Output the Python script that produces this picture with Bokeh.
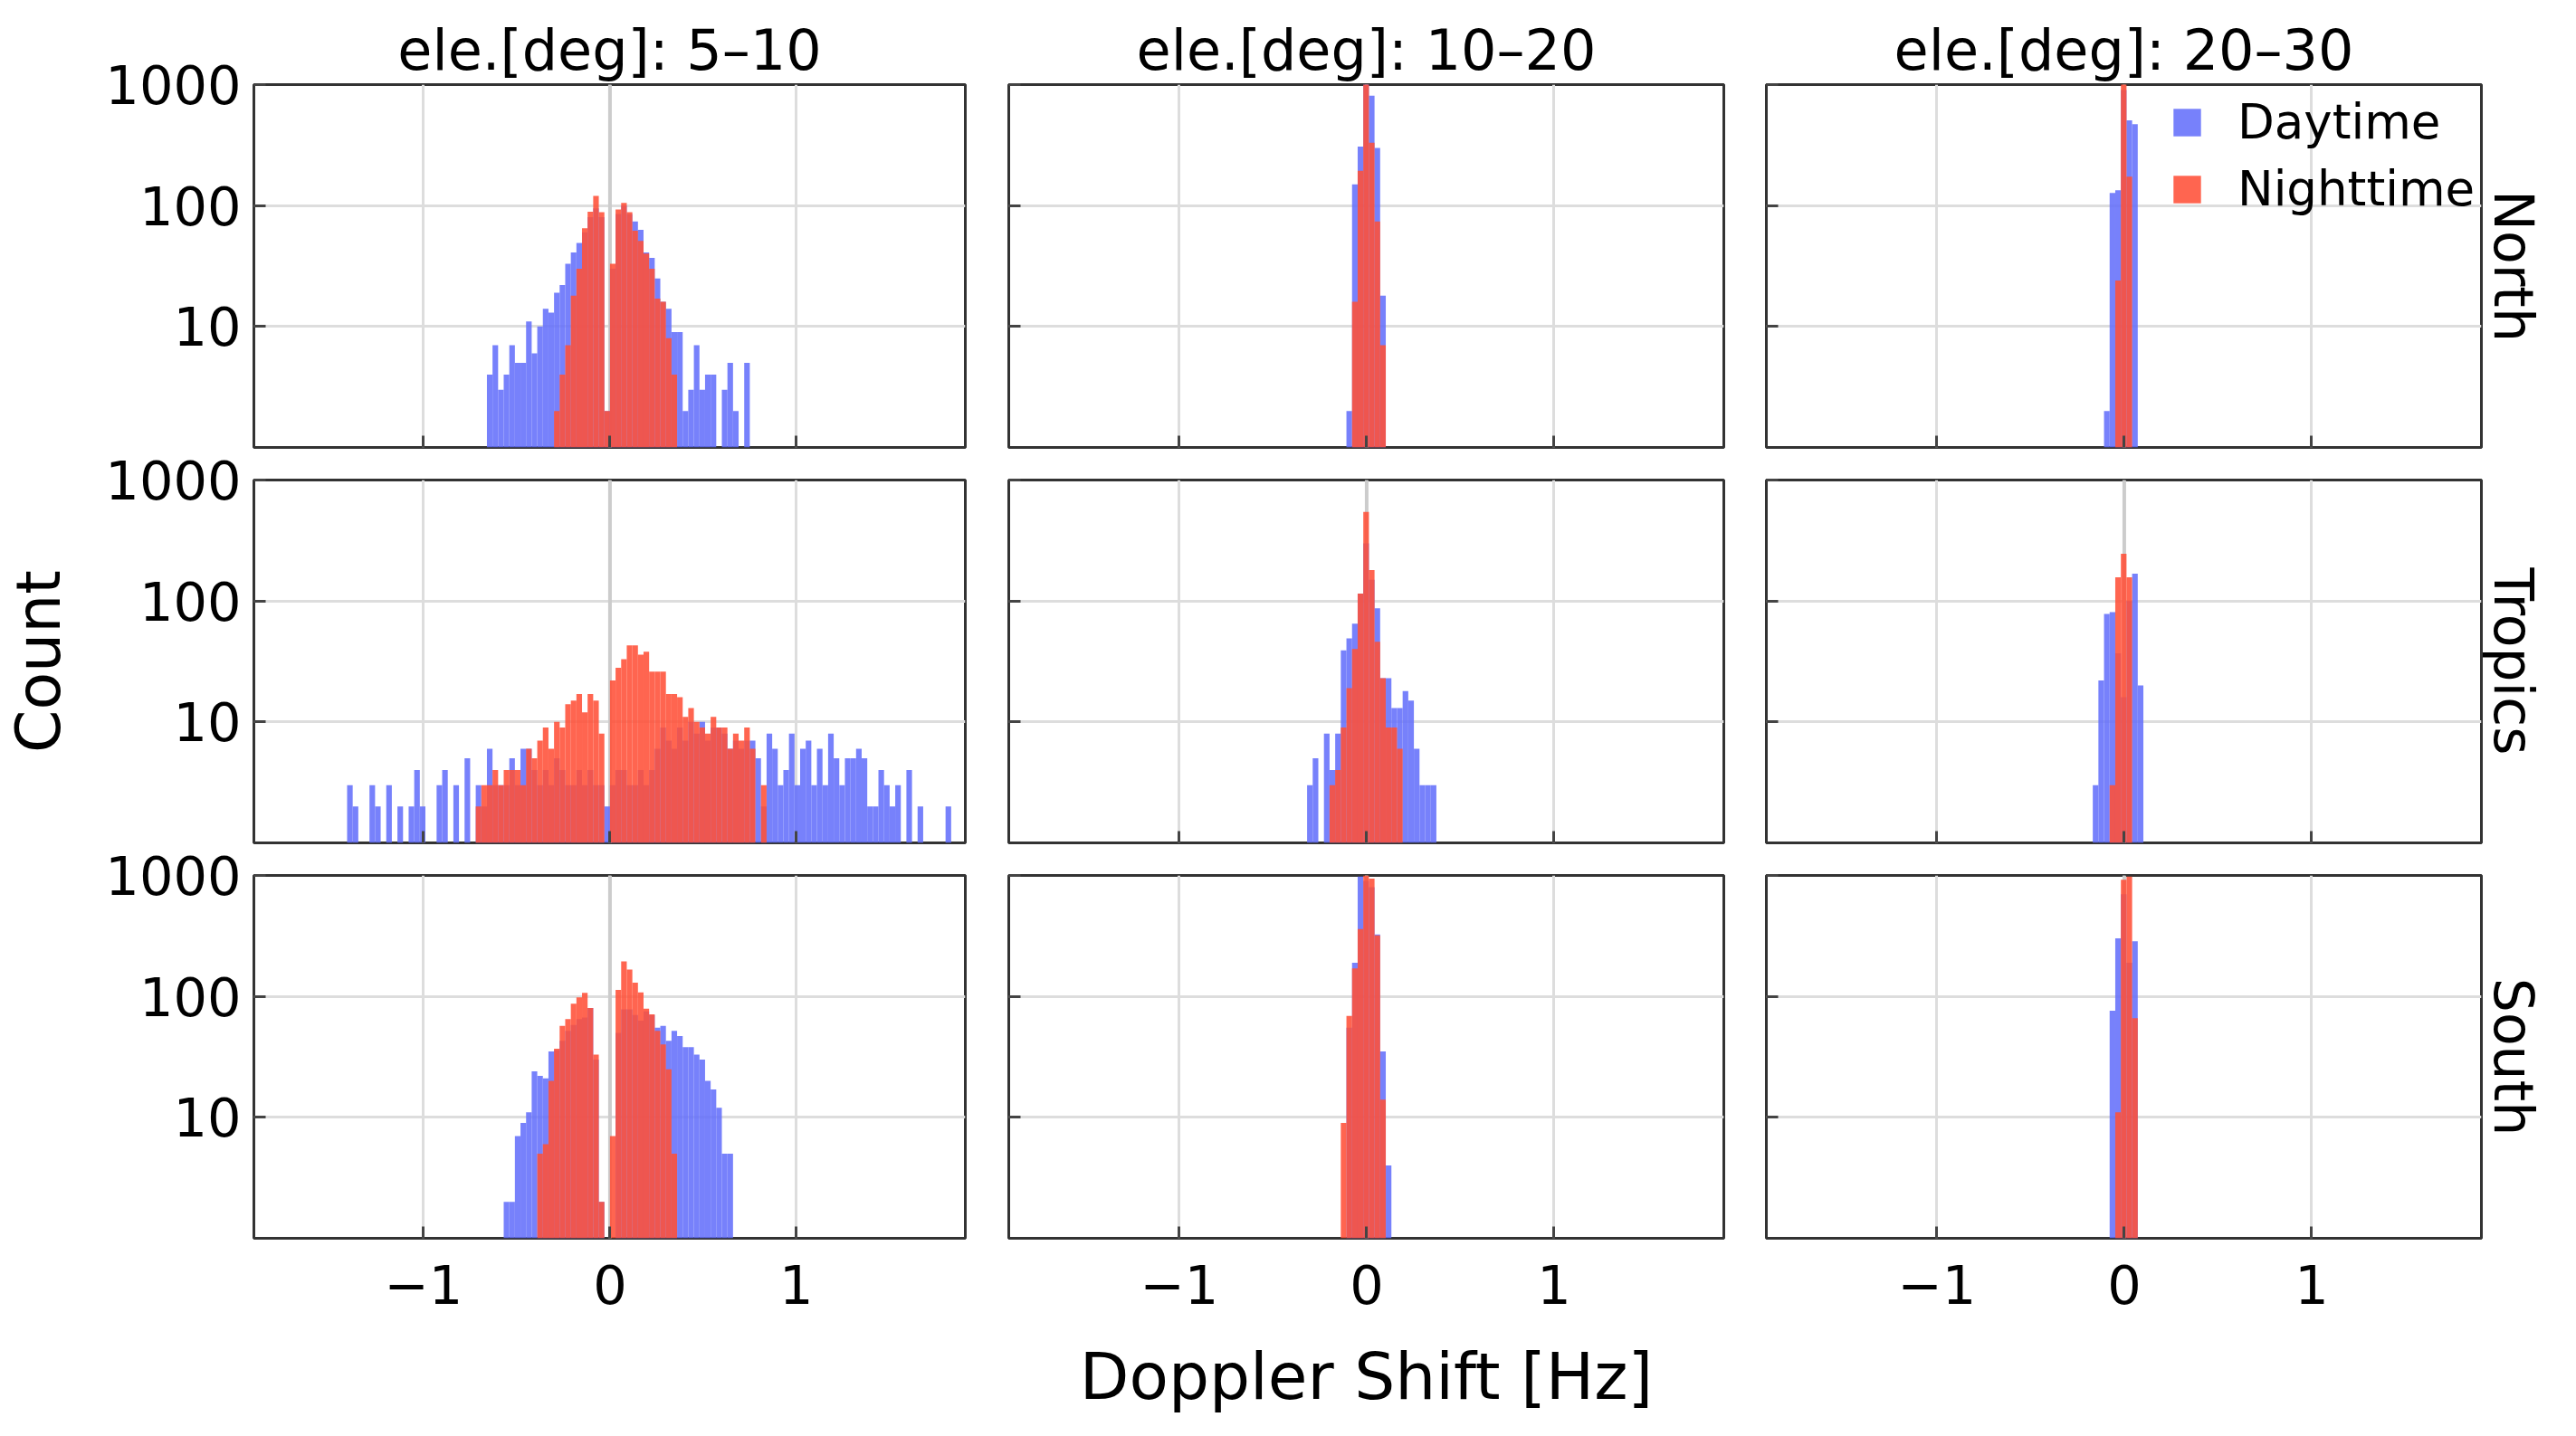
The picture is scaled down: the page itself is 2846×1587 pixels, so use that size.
import numpy as np
from bokeh.plotting import figure
from bokeh.layouts import gridplot
from bokeh.models import (Range1d, FixedTicker, Legend, LegendItem, Span, Title,
                          BasicTickFormatter, CustomJSTickFormatter, ColumnDataSource)
from bokeh.embed import file_html
from bokeh.resources import INLINE

FONT = "DejaVu Sans"
BIN_W = 0.03

col_titles = ["ele.[deg]: 5\u201310", "ele.[deg]: 10\u201320", "ele.[deg]: 20\u201330"]
row_labels = ["North", "Tropics", "South"]
series_names = ["Daytime", "Nighttime"]
x_label = "Doppler Shift [Hz]"
y_label = "Count"
x_ticks = [-1, 0, 1]
y_ticks = [10, 100, 1000]

# ---- elevation 5-10 deg ----
north_5_day_start = -0.66
north_5_day = [4, 7, 3, 4, 7, 5, 5, 11, 6, 10, 14, 13, 19, 22, 33, 41, 49, 60, 80, 95, 80, 2,
               30, 85, 100, 85, 74, 63, 41, 37, 25, 16, 14, 9, 9, 2, 3, 7, 3, 4, 4, 0, 3, 5, 2, 0, 5]
north_5_night_start = -0.30
north_5_night = [2, 4, 7, 18, 30, 65, 89, 120, 88, 2,
                 33, 93, 105, 88, 62, 51, 40, 30, 17, 16, 8, 4]

tropics_5_day_start = -1.41
tropics_5_day = [3, 2, 0, 0, 3, 2, 0, 3, 0, 2, 0, 2, 4, 2, 0, 0, 3, 4, 0, 3,
                 0, 5, 0, 3, 2, 6, 3, 3, 3, 5, 3, 6, 6, 4, 3, 4, 3, 5, 4, 3,
                 3, 4, 3, 4, 3, 3, 2,
                 3, 4, 4, 3, 3, 4, 3, 4, 6, 9, 7, 6, 9, 7, 10, 8, 10, 7, 9, 9, 8, 6, 7, 6, 7, 7,
                 5, 2, 8, 6, 3, 4, 8, 3, 6, 7, 3, 6, 3, 8, 5, 3, 5, 5, 6, 5,
                 2, 2, 4, 3, 2, 3, 0, 4, 0, 2, 0, 0, 0, 0, 2]
tropics_5_night_start = -0.72
tropics_5_night = [2, 3, 3, 4, 3, 4, 4, 4, 3, 6, 5, 7, 9, 6, 10, 9, 14, 15, 17, 12, 17, 15, 8, 0,
                   22, 28, 33, 43, 43, 36, 38, 26, 26, 26, 17, 17, 16, 11, 13, 10, 9, 8, 11, 9,
                   9, 6, 8, 7, 9, 6, 0, 3]

south_5_day_start = -0.57
south_5_day = [2, 2, 7, 9, 11, 24, 22, 21, 35, 36, 43, 52, 58, 65, 67, 80, 30, 2, 0,
               0, 50, 78, 78, 70, 63, 75, 70, 55, 57, 43, 52, 47, 38, 38, 33, 30, 20, 17, 12, 5, 5]
south_5_night_start = -0.39
south_5_night = [5, 6, 20, 37, 57, 65, 87, 98, 107, 80, 33, 2, 0,
                 7, 113, 195, 167, 130, 108, 79, 71, 52, 40, 25, 5]

# ---- elevation 10-20 deg ----
north_10_day_start = -0.108
north_10_day = [2, 150, 307, 1300, 810, 300, 18]
north_10_night_start = -0.078
north_10_night = [16, 194, 1500, 330, 74, 7]

tropics_10_day_start = -0.318
tropics_10_day = [3, 5, 0, 8, 4, 8, 39, 49, 65, 115, 300, 150, 87, 23, 23, 13, 13, 18, 15, 6, 3, 3, 3]
tropics_10_night_start = -0.198
tropics_10_night = [3, 4, 9, 19, 40, 115, 545, 180, 46, 23, 9, 9, 6]

south_10_day_start = -0.108
south_10_day = [55, 190, 980, 900, 800, 325, 35, 4]
south_10_night_start = -0.138
south_10_night = [9, 69, 170, 360, 1000, 940, 320, 14]

# ---- elevation 20-30 deg ----
north_20_day_start = -0.108
north_20_day = [2, 127, 134, 900, 506, 470]
north_20_night_start = -0.048
north_20_night = [24, 1500, 173]

tropics_20_day_start = -0.168
tropics_20_day = [3, 22, 78, 81, 37, 16, 100, 168, 20]
tropics_20_night_start = -0.078
tropics_20_night = [3, 157, 246, 157]

south_20_day_start = -0.078
south_20_day = [76, 302, 700, 190, 286]
south_20_night_start = -0.048
south_20_night = [11, 920, 980, 66]

panels = [
    [(north_5_day_start, north_5_day, north_5_night_start, north_5_night),
     (north_10_day_start, north_10_day, north_10_night_start, north_10_night),
     (north_20_day_start, north_20_day, north_20_night_start, north_20_night)],
    [(tropics_5_day_start, tropics_5_day, tropics_5_night_start, tropics_5_night),
     (tropics_10_day_start, tropics_10_day, tropics_10_night_start, tropics_10_night),
     (tropics_20_day_start, tropics_20_day, tropics_20_night_start, tropics_20_night)],
    [(south_5_day_start, south_5_day, south_5_night_start, south_5_night),
     (south_10_day_start, south_10_day, south_10_night_start, south_10_night),
     (south_20_day_start, south_20_day, south_20_night_start, south_20_night)],
]

DAY_COLOR = "#636EFA"
DAY_ALPHA = 0.87
NIGHT_COLOR = "#FF5038"
NIGHT_ALPHA = 0.88

FRAME_W, FRAME_H = 790, 401
B_LEFT = [276, 24, 24]
B_RIGHT = [24, 23, 96]
B_TOP = [93, 34, 34]
B_BOTTOM = [2, 2, 215]

EMPTY = CustomJSTickFormatter(code="return '';")


def hist_source(start, counts):
    left, right, top = [], [], []
    for i, c in enumerate(counts):
        if c > 1:
            left.append(start + i * BIN_W)
            right.append(start + (i + 1) * BIN_W)
            top.append(c)
    return ColumnDataSource(dict(left=left, right=right, top=top, bottom=[1] * len(top)))


grid = []
for r in range(3):
    row = []
    for c in range(3):
        p = figure(width=B_LEFT[c] + FRAME_W + B_RIGHT[c],
                   height=B_TOP[r] + FRAME_H + B_BOTTOM[r],
                   x_range=Range1d(-1.91, 1.906), y_range=Range1d(1, 1000),
                   y_axis_type="log", toolbar_location=None,
                   output_backend="svg",
                   min_border_left=B_LEFT[c], min_border_right=B_RIGHT[c],
                   min_border_top=B_TOP[r], min_border_bottom=B_BOTTOM[r])
        p.background_fill_color = "white"
        p.border_fill_color = "white"
        p.outline_line_color = "#333333"
        p.outline_line_width = 3

        ds, dc, ns, nc = panels[r][c]
        rb = p.quad(left="left", right="right", top="top", bottom="bottom",
                    source=hist_source(ds, dc), fill_color=DAY_COLOR,
                    fill_alpha=DAY_ALPHA, line_color=None)
        rr = p.quad(left="left", right="right", top="top", bottom="bottom",
                    source=hist_source(ns, nc), fill_color=NIGHT_COLOR,
                    fill_alpha=NIGHT_ALPHA, line_color=None)

        p.xaxis.ticker = FixedTicker(ticks=x_ticks)
        p.yaxis.ticker = FixedTicker(ticks=y_ticks)
        p.xgrid.ticker = FixedTicker(ticks=x_ticks)
        p.ygrid.ticker = FixedTicker(ticks=y_ticks)
        for g in (p.xgrid, p.ygrid):
            g.grid_line_color = "#dddddd"
            g.grid_line_width = 3
        p.add_layout(Span(location=0, dimension="height", line_color="#cccccc",
                          line_width=4, level="underlay"))

        for ax in (p.xaxis, p.yaxis):
            ax.axis_line_color = None
            ax.major_tick_in = 13
            ax.major_tick_out = 0
            ax.major_tick_line_color = "#444444"
            ax.major_tick_line_width = 3
            ax.minor_tick_line_color = None
            ax.major_label_text_font = FONT
            ax.major_label_text_color = "black"
            ax.major_label_text_font_size = "59px"
            ax.axis_label_text_font = FONT
            ax.axis_label_text_font_style = "normal"
            ax.axis_label_text_font_size = "68px"
            ax.axis_label_text_color = "black"

        if c == 0:
            p.yaxis.formatter = BasicTickFormatter()
            p.yaxis.major_label_standoff = 14
        else:
            p.yaxis.formatter = EMPTY
            p.yaxis.major_label_text_font_size = "1px"
            p.yaxis.major_label_standoff = 0
        if r == 2:
            p.xaxis.formatter = CustomJSTickFormatter(
                code="return tick < 0 ? '\\u2212' + Math.abs(tick) : String(tick);")
            p.xaxis.major_label_standoff = 29
        else:
            p.xaxis.formatter = EMPTY
            p.xaxis.major_label_text_font_size = "1px"
            p.xaxis.major_label_standoff = 0

        if r == 0:
            p.title.text = col_titles[c]
            p.title.align = "center"
            p.title.text_font = FONT
            p.title.text_font_size = "62px"
            p.title.text_font_style = "normal"
            p.title.text_color = "black"
            p.title.standoff = 4
        if c == 2:
            p.add_layout(Title(text=row_labels[r], align="center", text_font=FONT,
                               text_font_size="60px", text_font_style="normal",
                               text_color="black", standoff=1, offset=21), "right")
        if r == 1 and c == 0:
            p.yaxis.axis_label = y_label
            p.yaxis.axis_label_standoff = 31
        if r == 2 and c == 1:
            p.xaxis.axis_label = x_label
            p.xaxis.axis_label_text_font_size = "71px"
            p.xaxis.axis_label_standoff = 36
        if r == 0 and c == 2:
            leg = Legend(items=[LegendItem(label=series_names[0], renderers=[rb]),
                                LegendItem(label=series_names[1], renderers=[rr])],
                         location=(446, 255), orientation="vertical",
                         glyph_width=38, glyph_height=38, label_standoff=37,
                         padding=0, margin=0, spacing=13,
                         label_text_font=FONT, label_text_font_size="53px",
                         label_text_color="black",
                         background_fill_alpha=0, border_line_alpha=0)
            p.add_layout(leg)
        row.append(p)
    grid.append(row)

layout = gridplot(grid, toolbar_location=None)
open("out.html", "w").write(file_html(layout, INLINE))
